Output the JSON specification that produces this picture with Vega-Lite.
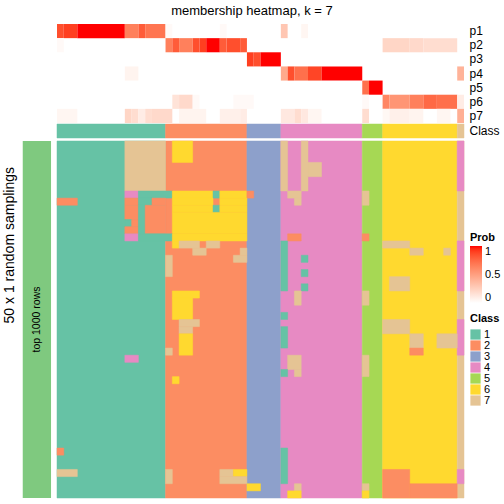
{
  "$schema": "https://vega.github.io/schema/vega-lite/v6.json",
  "padding": {"left": 2, "top": 5, "right": 0, "bottom": 0},
  "bounds": "flush",
  "spacing": 1,
  "title": {"text": "membership heatmap, k = 7", "fontSize": 13, "fontWeight": "normal", "anchor": "middle", "offset": 6, "color": "black"},
  "config": {"font": "Liberation Sans", "view": {"stroke": null}},
  "datasets": {
    "prob": [
      {"p":"p1","c0":0,"c1":1,"v":0.85},{"p":"p1","c0":1,"c1":3,"v":0.9},{"p":"p1","c0":3,"c1":10,"v":1},{"p":"p1","c0":10,"c1":12,"v":0.65},{"p":"p1","c0":12,"c1":13,"v":0.8},{"p":"p1","c0":13,"c1":16,"v":0.7},{"p":"p1","c0":16,"c1":17,"v":0.03},{"p":"p1","c0":24,"c1":25,"v":0.03},{"p":"p1","c0":33,"c1":34,"v":0.3},{"p":"p1","c0":36,"c1":37,"v":0.05},
      {"p":"p2","c0":0,"c1":1,"v":0.03},{"p":"p2","c0":16,"c1":17,"v":0.65},{"p":"p2","c0":17,"c1":18,"v":0.8},{"p":"p2","c0":18,"c1":20,"v":0.65},{"p":"p2","c0":20,"c1":21,"v":0.85},{"p":"p2","c0":21,"c1":22,"v":0.9},{"p":"p2","c0":22,"c1":24,"v":1},{"p":"p2","c0":24,"c1":25,"v":0.8},{"p":"p2","c0":25,"c1":27,"v":0.85},{"p":"p2","c0":27,"c1":28,"v":0.8},{"p":"p2","c0":48,"c1":52,"v":0.22},{"p":"p2","c0":52,"c1":54,"v":0.2},{"p":"p2","c0":54,"c1":59,"v":0.18},
      {"p":"p3","c0":28,"c1":29,"v":0.9},{"p":"p3","c0":29,"c1":30,"v":0.85},{"p":"p3","c0":30,"c1":33,"v":1},
      {"p":"p4","c0":10,"c1":12,"v":0.06},{"p":"p4","c0":33,"c1":34,"v":0.45},{"p":"p4","c0":34,"c1":35,"v":0.85},{"p":"p4","c0":35,"c1":37,"v":0.72},{"p":"p4","c0":37,"c1":39,"v":0.88},{"p":"p4","c0":39,"c1":45,"v":1},{"p":"p4","c0":59,"c1":60,"v":0.4},
      {"p":"p5","c0":45,"c1":46,"v":0.72},{"p":"p5","c0":46,"c1":48,"v":1},
      {"p":"p6","c0":17,"c1":18,"v":0.15},{"p":"p6","c0":18,"c1":20,"v":0.2},{"p":"p6","c0":20,"c1":21,"v":0.03},{"p":"p6","c0":26,"c1":29,"v":0.03},{"p":"p6","c0":45,"c1":46,"v":0.03},{"p":"p6","c0":48,"c1":49,"v":0.62},{"p":"p6","c0":49,"c1":52,"v":0.55},{"p":"p6","c0":52,"c1":54,"v":0.65},{"p":"p6","c0":54,"c1":56,"v":0.75},{"p":"p6","c0":56,"c1":59,"v":0.72},{"p":"p6","c0":59,"c1":60,"v":0.1},
      {"p":"p7","c0":0,"c1":3,"v":0.05},{"p":"p7","c0":10,"c1":11,"v":0.22},{"p":"p7","c0":11,"c1":12,"v":0.18},{"p":"p7","c0":12,"c1":13,"v":0.1},{"p":"p7","c0":13,"c1":14,"v":0.18},{"p":"p7","c0":14,"c1":17,"v":0.2},{"p":"p7","c0":18,"c1":22,"v":0.06},{"p":"p7","c0":24,"c1":27,"v":0.08},{"p":"p7","c0":27,"c1":28,"v":0.1},{"p":"p7","c0":33,"c1":35,"v":0.12},{"p":"p7","c0":35,"c1":36,"v":0.18},{"p":"p7","c0":36,"c1":37,"v":0.12},{"p":"p7","c0":37,"c1":39,"v":0.05},{"p":"p7","c0":45,"c1":46,"v":0.18},{"p":"p7","c0":48,"c1":49,"v":0.04},{"p":"p7","c0":49,"c1":52,"v":0.08},{"p":"p7","c0":52,"c1":54,"v":0.06},{"p":"p7","c0":56,"c1":58,"v":0.05},{"p":"p7","c0":59,"c1":60,"v":0.42}
    ],
    "classes": [
      {"c0":0,"c1":16,"k":"1"},{"c0":16,"c1":28,"k":"2"},{"c0":28,"c1":33,"k":"3"},{"c0":33,"c1":45,"k":"4"},{"c0":45,"c1":48,"k":"5"},{"c0":48,"c1":59,"k":"6"},{"c0":59,"c1":60,"k":"7"}
    ],
    "dev": [
      {"r0":0,"r1":7,"c0":10,"c1":16,"k":"7"},{"r0":0,"r1":3,"c0":17,"c1":20,"k":"6"},{"r0":0,"r1":7,"c0":33,"c1":34,"k":"7"},{"r0":0,"r1":7,"c0":36,"c1":37,"k":"7"},{"r0":3,"r1":5,"c0":37,"c1":39,"k":"7"},{"r0":0,"r1":7,"c0":59,"c1":60,"k":"4"},
      {"r0":7,"r1":8,"c0":10,"c1":12,"k":"4"},{"r0":7,"r1":8,"c0":12,"c1":17,"k":"1"},{"r0":7,"r1":8,"c0":17,"c1":23,"k":"6"},{"r0":7,"r1":8,"c0":23,"c1":24,"k":"1"},{"r0":7,"r1":8,"c0":24,"c1":28,"k":"6"},{"r0":7,"r1":8,"c0":28,"c1":29,"k":"2"},{"r0":7,"r1":8,"c0":34,"c1":36,"k":"7"},{"r0":7,"r1":9,"c0":45,"c1":46,"k":"7"},
      {"r0":8,"r1":9,"c0":0,"c1":3,"k":"2"},{"r0":8,"r1":9,"c0":10,"c1":12,"k":"2"},{"r0":8,"r1":9,"c0":12,"c1":14,"k":"1"},{"r0":8,"r1":9,"c0":14,"c1":16,"k":"2"},{"r0":8,"r1":9,"c0":17,"c1":23,"k":"6"},{"r0":8,"r1":9,"c0":24,"c1":28,"k":"6"},{"r0":8,"r1":9,"c0":35,"c1":36,"k":"7"},
      {"r0":9,"r1":11,"c0":10,"c1":12,"k":"2"},{"r0":11,"r1":12,"c0":10,"c1":11,"k":"1"},{"r0":11,"r1":12,"c0":11,"c1":12,"k":"2"},{"r0":12,"r1":13,"c0":10,"c1":12,"k":"2"},{"r0":9,"r1":13,"c0":12,"c1":13,"k":"1"},{"r0":9,"r1":13,"c0":13,"c1":16,"k":"2"},{"r0":9,"r1":10,"c0":17,"c1":23,"k":"6"},{"r0":9,"r1":10,"c0":23,"c1":24,"k":"1"},{"r0":9,"r1":10,"c0":24,"c1":28,"k":"6"},{"r0":10,"r1":13,"c0":17,"c1":28,"k":"6"},
      {"r0":13,"r1":14,"c0":10,"c1":12,"k":"4"},{"r0":13,"r1":14,"c0":12,"c1":17,"k":"1"},{"r0":13,"r1":14,"c0":17,"c1":28,"k":"6"},{"r0":13,"r1":14,"c0":34,"c1":36,"k":"2"},{"r0":13,"r1":14,"c0":45,"c1":46,"k":"2"},
      {"r0":14,"r1":15,"c0":17,"c1":18,"k":"6"},{"r0":14,"r1":15,"c0":18,"c1":21,"k":"7"},{"r0":14,"r1":15,"c0":22,"c1":24,"k":"7"},{"r0":14,"r1":21,"c0":33,"c1":34,"k":"1"},{"r0":14,"r1":15,"c0":48,"c1":52,"k":"7"},{"r0":14,"r1":21,"c0":59,"c1":60,"k":"4"},
      {"r0":15,"r1":16,"c0":20,"c1":22,"k":"7"},{"r0":15,"r1":16,"c0":27,"c1":28,"k":"7"},{"r0":15,"r1":16,"c0":52,"c1":54,"k":"7"},{"r0":15,"r1":16,"c0":57,"c1":58,"k":"7"},
      {"r0":16,"r1":19,"c0":16,"c1":17,"k":"7"},{"r0":16,"r1":17,"c0":26,"c1":28,"k":"7"},{"r0":16,"r1":17,"c0":36,"c1":37,"k":"1"},
      {"r0":18,"r1":19,"c0":36,"c1":37,"k":"1"},{"r0":20,"r1":21,"c0":36,"c1":37,"k":"1"},{"r0":19,"r1":21,"c0":49,"c1":52,"k":"7"},
      {"r0":21,"r1":22,"c0":17,"c1":21,"k":"6"},{"r0":21,"r1":23,"c0":35,"c1":36,"k":"7"},{"r0":21,"r1":23,"c0":45,"c1":46,"k":"7"},
      {"r0":22,"r1":25,"c0":17,"c1":20,"k":"6"},{"r0":24,"r1":25,"c0":33,"c1":34,"k":"1"},
      {"r0":25,"r1":26,"c0":18,"c1":21,"k":"7"},{"r0":25,"r1":27,"c0":48,"c1":52,"k":"7"},{"r0":25,"r1":30,"c0":59,"c1":60,"k":"4"},
      {"r0":26,"r1":27,"c0":18,"c1":20,"k":"7"},{"r0":26,"r1":29,"c0":33,"c1":34,"k":"1"},
      {"r0":27,"r1":30,"c0":18,"c1":20,"k":"6"},{"r0":27,"r1":29,"c0":52,"c1":54,"k":"7"},{"r0":27,"r1":29,"c0":56,"c1":59,"k":"7"},{"r0":29,"r1":30,"c0":16,"c1":17,"k":"7"},{"r0":29,"r1":30,"c0":52,"c1":54,"k":"2"},
      {"r0":30,"r1":31,"c0":10,"c1":12,"k":"4"},{"r0":30,"r1":32,"c0":34,"c1":36,"k":"7"},{"r0":30,"r1":33,"c0":45,"c1":46,"k":"7"},
      {"r0":32,"r1":33,"c0":33,"c1":34,"k":"1"},{"r0":32,"r1":33,"c0":35,"c1":36,"k":"7"},
      {"r0":33,"r1":34,"c0":17,"c1":18,"k":"6"},
      {"r0":43,"r1":44,"c0":0,"c1":1,"k":"2"},{"r0":43,"r1":48,"c0":33,"c1":34,"k":"1"},
      {"r0":46,"r1":47,"c0":0,"c1":3,"k":"7"},{"r0":46,"r1":48,"c0":16,"c1":17,"k":"7"},{"r0":46,"r1":47,"c0":24,"c1":26,"k":"7"},{"r0":46,"r1":47,"c0":26,"c1":28,"k":"6"},{"r0":47,"r1":48,"c0":24,"c1":28,"k":"7"},{"r0":46,"r1":50,"c0":48,"c1":52,"k":"2"},{"r0":46,"r1":48,"c0":59,"c1":60,"k":"4"},
      {"r0":48,"r1":49,"c0":28,"c1":30,"k":"6"},{"r0":48,"r1":49,"c0":35,"c1":36,"k":"7"},{"r0":48,"r1":49,"c0":45,"c1":46,"k":"7"},{"r0":48,"r1":50,"c0":52,"c1":59,"k":"2"},
      {"r0":49,"r1":50,"c0":34,"c1":36,"k":"6"},{"r0":49,"r1":50,"c0":45,"c1":46,"k":"6"}
    ]
  },
  "vconcat": [
    {
      "width": 407,
      "height": 99,
      "data": {"name": "prob"},
      "mark": {"type": "rect"},
      "encoding": {
        "x": {"field": "c0", "type": "quantitative", "scale": {"domain": [0, 60], "nice": false, "zero": false}, "axis": null},
        "x2": {"field": "c1"},
        "y": {"field": "p", "type": "nominal", "scale": {"domain": ["p1","p2","p3","p4","p5","p6","p7"], "paddingInner": 0, "paddingOuter": 0}, "axis": {"orient": "right", "title": null, "ticks": false, "tickSize": 0, "domain": false, "labelPadding": 5, "labelFontSize": 12, "labelColor": "black"}},
        "color": {"field": "v", "type": "quantitative", "scale": {"domain": [0, 1], "range": ["#ffffff", "#ff0000"], "interpolate": "lab"},
          "legend": {"title": "Prob", "orient": "none", "legendX": 413, "legendY": 208, "direction": "vertical", "gradientLength": 57, "gradientThickness": 12, "values": [0, 0.5, 1], "format": "~g", "titleFontSize": 11, "titleFontWeight": "bold", "titleColor": "black", "titlePadding": 3, "labelFontSize": 11, "labelColor": "black", "labelOffset": 3, "labelBaseline": "middle", "labelOverlap": false, "padding": 0, "gradientStrokeWidth": 0}}
      }
    },
    {
      "width": 407,
      "height": 14,
      "data": {"name": "classes"},
      "mark": {"type": "rect", "strokeWidth": 0.5},
      "encoding": {
        "x": {"field": "c0", "type": "quantitative", "scale": {"domain": [0, 60], "nice": false, "zero": false}, "axis": null},
        "x2": {"field": "c1"},
        "y": {"datum": "Class", "type": "nominal", "scale": {"paddingInner": 0, "paddingOuter": 0}, "axis": {"orient": "right", "title": null, "ticks": false, "tickSize": 0, "domain": false, "labelPadding": 5, "labelFontSize": 12, "labelColor": "black"}},
        "color": {"field": "k", "type": "nominal", "scale": {"domain": ["1","2","3","4","5","6","7"], "range": ["#66C2A5","#FC8D62","#8DA0CB","#E78AC3","#A6D854","#FFD92F","#E5C494"]}, "legend": null},
        "stroke": {"field": "k", "type": "nominal", "scale": {"domain": ["1","2","3","4","5","6","7"], "range": ["#66C2A5","#FC8D62","#8DA0CB","#E78AC3","#A6D854","#FFD92F","#E5C494"]}, "legend": null}
      }
    },
    {
      "width": 407,
      "height": 359,
      "layer": [
        {
          "data": {"name": "classes"},
          "mark": {"type": "rect", "strokeWidth": 0.5},
          "encoding": {
            "x": {"field": "c0", "type": "quantitative", "scale": {"domain": [0, 60], "nice": false, "zero": false}, "axis": null},
            "x2": {"field": "c1"},
            "y": {"datum": 0, "type": "quantitative", "scale": {"domain": [-0.28, 50], "reverse": true, "nice": false, "zero": false}, "axis": null},
            "y2": {"datum": 50},
            "color": {"field": "k", "type": "nominal", "scale": {"domain": ["1","2","3","4","5","6","7"], "range": ["#66C2A5","#FC8D62","#8DA0CB","#E78AC3","#A6D854","#FFD92F","#E5C494"]},
              "legend": {"title": "Class", "orient": "none", "legendX": 413, "legendY": 174, "titleFontSize": 11, "titleFontWeight": "bold", "titleColor": "black", "titlePadding": 5, "labelFontSize": 11, "labelColor": "black", "symbolType": "square", "symbolSize": 105, "symbolStrokeWidth": 0, "symbolOpacity": 1, "rowPadding": -1, "labelOffset": 3, "padding": 0}},
            "stroke": {"field": "k", "type": "nominal", "scale": {"domain": ["1","2","3","4","5","6","7"], "range": ["#66C2A5","#FC8D62","#8DA0CB","#E78AC3","#A6D854","#FFD92F","#E5C494"]}, "legend": null}
          }
        },
        {
          "data": {"name": "dev"},
          "mark": {"type": "rect", "strokeWidth": 0.5},
          "encoding": {
            "x": {"field": "c0", "type": "quantitative"},
            "x2": {"field": "c1"},
            "y": {"field": "r0", "type": "quantitative"},
            "y2": {"field": "r1"},
            "color": {"field": "k", "type": "nominal"},
            "stroke": {"field": "k", "type": "nominal"}
          }
        },
        {
          "data": {"values": [{}]},
          "mark": {"type": "rect", "color": "#7FC97F"},
          "encoding": {"x": {"datum": -5.05}, "x2": {"datum": -0.88}, "y": {"datum": 0}, "y2": {"datum": 50}}
        },
        {
          "data": {"values": [{}]},
          "mark": {"type": "text", "text": "top 1000 rows", "angle": 270, "fontSize": 10.5, "align": "center", "baseline": "middle", "color": "black"},
          "encoding": {"x": {"datum": -2.95}, "y": {"datum": 25}}
        },
        {
          "data": {"values": [{}]},
          "mark": {"type": "text", "text": "50 x 1 random samplings", "angle": 270, "fontSize": 14, "align": "center", "baseline": "middle", "color": "black"},
          "encoding": {"x": {"datum": -6.95}, "y": {"datum": 14.6}}
        }
      ]
    }
  ]
}
